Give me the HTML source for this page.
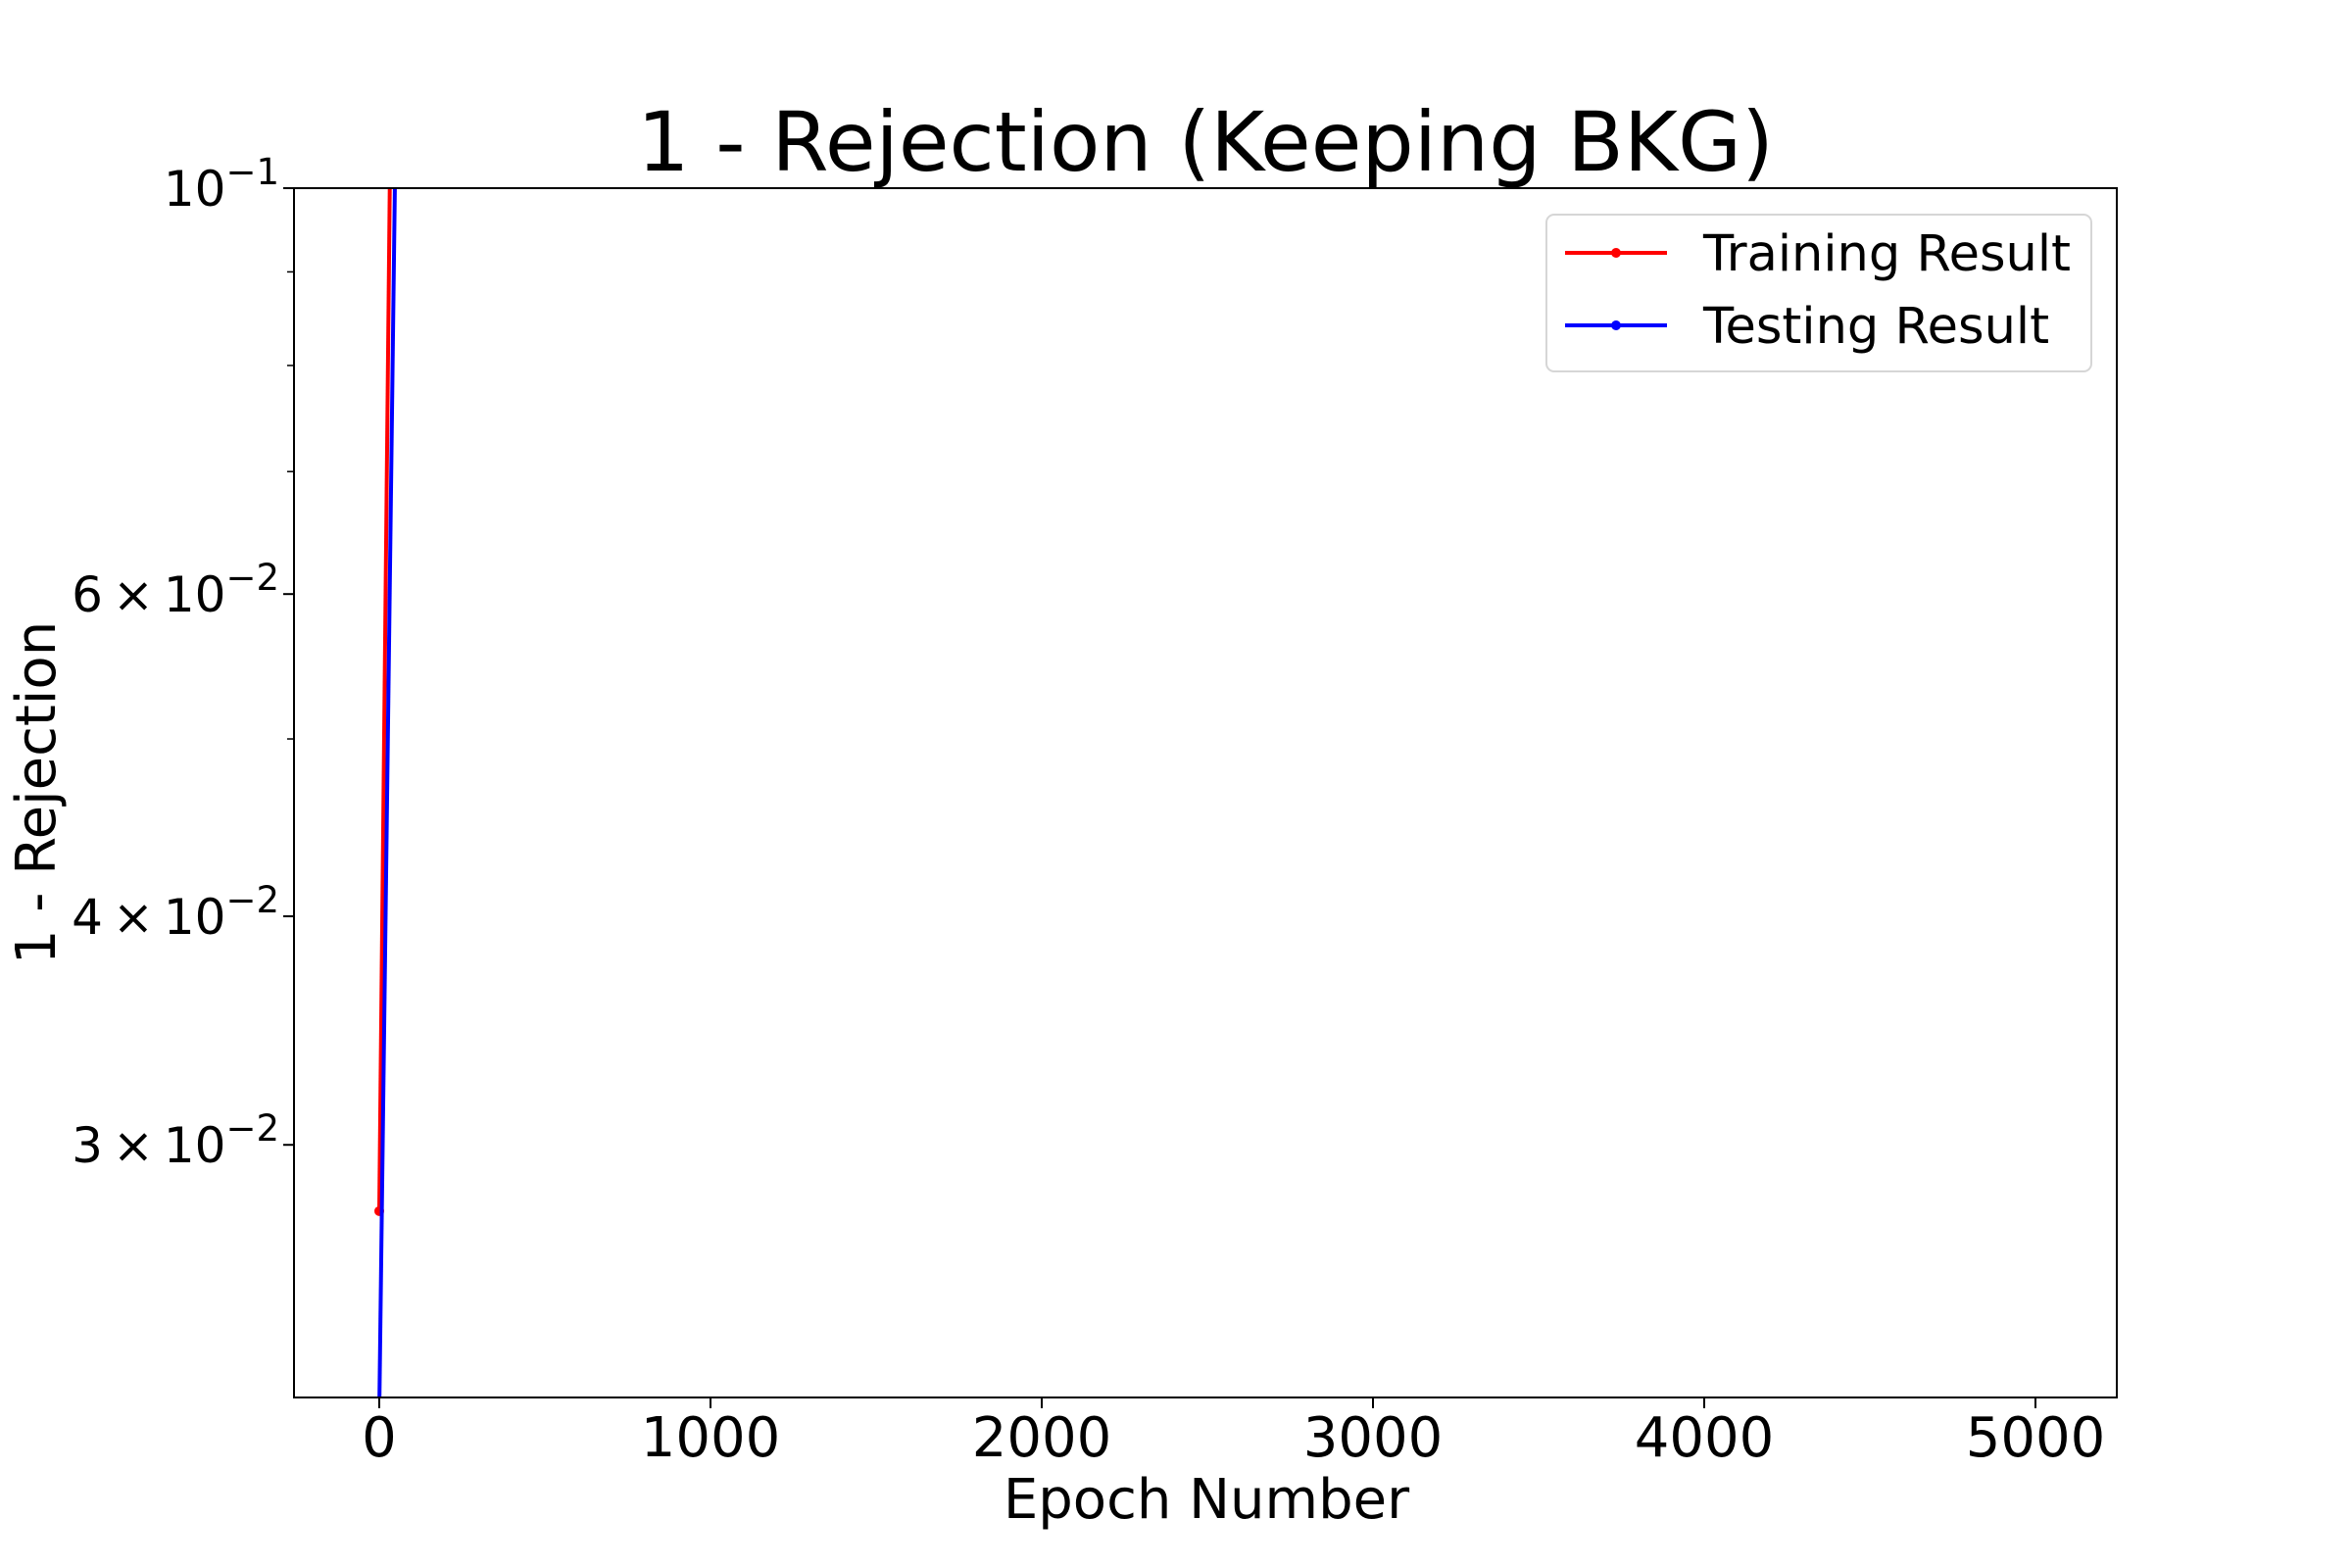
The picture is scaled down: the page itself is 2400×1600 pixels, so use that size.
<!DOCTYPE html>
<html><head><meta charset="utf-8"><style>
html,body{margin:0;padding:0;background:#fff;}
svg{display:block;font-family:"DejaVu Sans","Liberation Sans",sans-serif;}
</style></head><body>
<svg id="chart" width="2400" height="1600" viewBox="0 0 2400 1600" xmlns="http://www.w3.org/2000/svg">
<defs><clipPath id="plotclip"><rect x="300" y="192" width="1860" height="1234"/></clipPath></defs>
<rect x="0" y="0" width="2400" height="1600" fill="#fff"/>
<text x="1230" y="174" font-size="84" text-anchor="middle" fill="#000">1 - Rejection (Keeping BKG)</text>
<g id="xticks"></g><g id="yticks"></g>
<g id="series" clip-path="url(#plotclip)"></g>
<rect x="300" y="192" width="1860" height="1234" fill="none" stroke="#000" stroke-width="2"/>
<text x="1231" y="1549" font-size="56" text-anchor="middle">Epoch Number</text>
<text transform="translate(56,809) rotate(-90)" font-size="56" text-anchor="middle">1 - Rejection</text>
<g>
<rect x="1578" y="219" width="556" height="160" rx="8" fill="#fff" stroke="#d6d6d6" stroke-width="2"/>
<line x1="1597" y1="258" x2="1701" y2="258" stroke="#f00" stroke-width="4"/>
<circle cx="1649" cy="258" r="5" fill="#f00"/>
<text x="1738" y="276" font-size="51">Training Result</text>
<line x1="1597" y1="332" x2="1701" y2="332" stroke="#00f" stroke-width="4"/>
<circle cx="1649" cy="332" r="5" fill="#00f"/>
<text x="1738" y="350" font-size="51">Testing Result</text>
</g>
</svg>
<script>
const epochs = [0, 50];
const trainValues = [0.0276, 0.21];
const testValues = [0.0214, 0.11];
const xTickValues = [0, 1000, 2000, 3000, 4000, 5000];
const yMajorTicks = [0.1, 0.06, 0.04, 0.03];
const yMajorLabels = ["10", "6\u2009\u00d7\u200910", "4\u2009\u00d7\u200910", "3\u2009\u00d7\u200910"];
const yMajorExp = ["\u22121", "\u22122", "\u22122", "\u22122"];
const yMinorTicks = [0.09, 0.08, 0.07, 0.05];

const NS = "http://www.w3.org/2000/svg";
const X0 = 387, XPER = 0.338;
const YTOP = 192, YMAX = 0.1, DEC = 1867;
function xs(v){ return X0 + v * XPER; }
function ys(v){ return YTOP + Math.log10(YMAX / v) * DEC; }
function mk(tag, attrs, parent){ const e = document.createElementNS(NS, tag); for (const k in attrs) e.setAttribute(k, attrs[k]); parent.appendChild(e); return e; }

const xg = document.getElementById('xticks');
xTickValues.forEach(v => {
  const t = mk('line', {x1: xs(v), x2: xs(v), y1: 1426, y2: 1437, stroke: '#000', 'stroke-width': 2}, xg);
  
  
  const l = mk('text', {x: xs(v), y: 1486, 'font-size': 56, 'text-anchor': 'middle'}, xg);
  l.textContent = String(v);
  
  
});

const yg = document.getElementById('yticks');
yMajorTicks.forEach((v, i) => {
  const t = mk('line', {x1: 289, x2: 300, y1: ys(v), y2: ys(v), stroke: '#000', 'stroke-width': 2}, yg);
  
  
  const l = mk('text', {x: 285, y: ys(v) + 18, 'font-size': 50, 'text-anchor': 'end'}, yg);
  
  
  const a = mk('tspan', {}, l); a.textContent = yMajorLabels[i];
  const b = mk('tspan', {dy: -22, 'font-size': 37}, l); b.textContent = yMajorExp[i];
});
yMinorTicks.forEach(v => {
  const t = mk('line', {x1: 293, x2: 300, y1: ys(v), y2: ys(v), stroke: '#000', 'stroke-width': 1.5}, yg);
  
  
});

const sg = document.getElementById('series');
function drawSeries(vals, color, name){
  const pts = epochs.map((e, i) => xs(e) + ',' + ys(vals[i])).join(' ');
  const p = mk('polyline', {points: pts, fill: 'none', stroke: color, 'stroke-width': 4}, sg);
  
  
  epochs.forEach((e, i) => {
    const c = mk('circle', {cx: xs(e), cy: ys(vals[i]), r: 5, fill: color}, sg);
    
    
  });
}
drawSeries(trainValues, '#f00', 'training');
drawSeries(testValues, '#00f', 'testing');
</script>
</body></html>
